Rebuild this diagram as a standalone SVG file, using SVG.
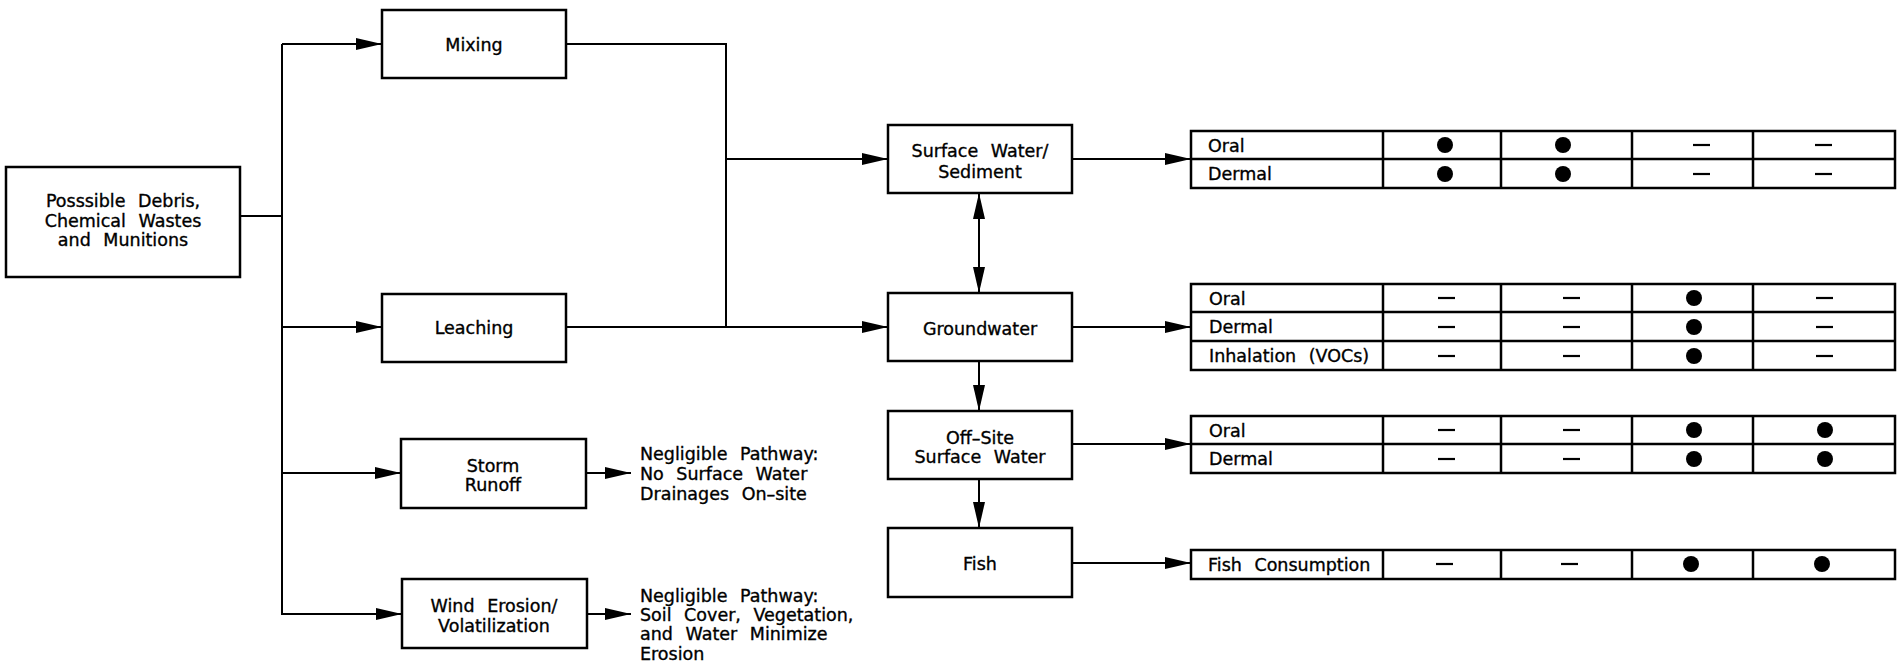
<svg xmlns="http://www.w3.org/2000/svg" width="1897" height="664" viewBox="0 0 1897 664">
<style>
.box{fill:#fff;stroke:#000;stroke-width:2.5}
.ln{fill:none;stroke:#000;stroke-width:2}
.arr{fill:none;stroke:#000;stroke-width:2;marker-end:url(#ah)}
.t{font-family:"DejaVu Sans",sans-serif;font-size:17.5px;fill:#000;stroke:#000;stroke-width:0.35;word-spacing:7px}
.c{text-anchor:middle}
.tb{fill:none;stroke:#000;stroke-width:2.5}
.dot{fill:#000}
.dash{stroke:#000;stroke-width:2.2}
</style>
<defs>
<marker id="ah" markerUnits="userSpaceOnUse" markerWidth="27" markerHeight="12" refX="26" refY="6" orient="auto-start-reverse" viewBox="0 0 27 12">
<path d="M0,0 L26,6 L0,12 z" fill="#000"/>
</marker>
</defs>
<rect width="1897" height="664" fill="#fff"/>

<g id="connectors">
<line class="ln" x1="240" y1="216" x2="282" y2="216"/>
<line class="ln" x1="282" y1="44" x2="282" y2="615"/>
<line class="arr" x1="282" y1="44" x2="382" y2="44"/>
<line class="arr" x1="282" y1="327" x2="382" y2="327"/>
<line class="arr" x1="282" y1="473" x2="401" y2="473"/>
<line class="arr" x1="282" y1="614" x2="402" y2="614"/>
<polyline class="ln" points="566,44 726,44 726,327"/>
<line class="arr" x1="726" y1="159" x2="888" y2="159"/>
<line class="arr" x1="566" y1="327" x2="888" y2="327"/>
<line class="arr" x1="979" y1="193" x2="979" y2="293" style="marker-start:url(#ah)"/>
<line class="arr" x1="979" y1="361" x2="979" y2="411"/>
<line class="arr" x1="979" y1="479" x2="979" y2="528"/>
<line class="arr" x1="1072" y1="159" x2="1191" y2="159"/>
<line class="arr" x1="1072" y1="327" x2="1191" y2="327"/>
<line class="arr" x1="1072" y1="444" x2="1191" y2="444"/>
<line class="arr" x1="1072" y1="563" x2="1191" y2="563"/>
<line class="arr" x1="586" y1="473" x2="631" y2="473"/>
<line class="arr" x1="587" y1="614" x2="631" y2="614"/>
</g>

<g id="source">
<rect class="box" x="6" y="167" width="234" height="110"/>
<text class="t c" x="123" y="206.5">Posssible Debris,</text>
<text class="t c" x="123" y="226.5">Chemical Wastes</text>
<text class="t c" x="123" y="245.5">and Munitions</text>
</g>
<g id="mixing">
<rect class="box" x="382" y="10" width="184" height="68"/>
<text class="t c" x="474" y="50.5">Mixing</text>
</g>
<g id="leaching">
<rect class="box" x="382" y="294" width="184" height="68"/>
<text class="t c" x="474" y="333.5">Leaching</text>
</g>
<g id="storm">
<rect class="box" x="401" y="439" width="185" height="69"/>
<text class="t c" x="493" y="471.5">Storm</text>
<text class="t c" x="493" y="490.5">Runoff</text>
</g>
<g id="wind">
<rect class="box" x="402" y="579" width="185" height="69"/>
<text class="t c" x="494" y="611.5">Wind Erosion/</text>
<text class="t c" x="494" y="631.5">Volatilization</text>
</g>
<g id="storm-note">
<text class="t" x="640" y="459.5">Negligible Pathway:</text>
<text class="t" x="640" y="479.5">No Surface Water</text>
<text class="t" x="640" y="499.5">Drainages On–site</text>
</g>
<g id="wind-note">
<text class="t" x="640" y="601.5">Negligible Pathway:</text>
<text class="t" x="640" y="620.5">Soil Cover, Vegetation,</text>
<text class="t" x="640" y="639.5">and Water Minimize</text>
<text class="t" x="640" y="659.5">Erosion</text>
</g>
<g id="surface-water">
<rect class="box" x="888" y="125" width="184" height="68"/>
<text class="t c" x="980" y="156.5">Surface Water/</text>
<text class="t c" x="980" y="177.5">Sediment</text>
</g>
<g id="groundwater">
<rect class="box" x="888" y="293" width="184" height="68"/>
<text class="t c" x="980" y="334.5">Groundwater</text>
</g>
<g id="offsite">
<rect class="box" x="888" y="411" width="184" height="68"/>
<text class="t c" x="980" y="443.5">Off–Site</text>
<text class="t c" x="980" y="462.5">Surface Water</text>
</g>
<g id="fish">
<rect class="box" x="888" y="528" width="184" height="69"/>
<text class="t c" x="980" y="569.5">Fish</text>
</g>

<g id="table-surface">
<rect class="tb" x="1191" y="131" width="704" height="57"/>
<path class="tb" d="M1191,159 H1895 M1383,131 V188 M1501,131 V188 M1632,131 V188 M1753,131 V188"/>
<text class="t" x="1208" y="151.5">Oral</text>
<text class="t" x="1208" y="179.5">Dermal</text>
<circle class="dot" cx="1445" cy="145" r="8"/><circle class="dot" cx="1563" cy="145" r="8"/>
<line class="dash" x1="1693" y1="145" x2="1710" y2="145"/><line class="dash" x1="1815" y1="145" x2="1832" y2="145"/>
<circle class="dot" cx="1445" cy="174" r="8"/><circle class="dot" cx="1563" cy="174" r="8"/>
<line class="dash" x1="1693" y1="174" x2="1710" y2="174"/><line class="dash" x1="1815" y1="174" x2="1832" y2="174"/>
</g>
<g id="table-groundwater">
<rect class="tb" x="1191" y="284" width="704" height="86"/>
<path class="tb" d="M1191,312 H1895 M1191,341 H1895 M1383,284 V370 M1501,284 V370 M1632,284 V370 M1753,284 V370"/>
<text class="t" x="1209" y="304.5">Oral</text>
<text class="t" x="1209" y="332.5">Dermal</text>
<text class="t" x="1209" y="362">Inhalation (VOCs)</text>
<line class="dash" x1="1438" y1="298" x2="1455" y2="298"/><line class="dash" x1="1563" y1="298" x2="1580" y2="298"/>
<circle class="dot" cx="1694" cy="298" r="8"/><line class="dash" x1="1816" y1="298" x2="1833" y2="298"/>
<line class="dash" x1="1438" y1="327" x2="1455" y2="327"/><line class="dash" x1="1563" y1="327" x2="1580" y2="327"/>
<circle class="dot" cx="1694" cy="327" r="8"/><line class="dash" x1="1816" y1="327" x2="1833" y2="327"/>
<line class="dash" x1="1438" y1="356" x2="1455" y2="356"/><line class="dash" x1="1563" y1="356" x2="1580" y2="356"/>
<circle class="dot" cx="1694" cy="356" r="8"/><line class="dash" x1="1816" y1="356" x2="1833" y2="356"/>
</g>
<g id="table-offsite">
<rect class="tb" x="1191" y="416" width="704" height="57"/>
<path class="tb" d="M1191,444 H1895 M1383,416 V473 M1501,416 V473 M1632,416 V473 M1753,416 V473"/>
<text class="t" x="1209" y="436.5">Oral</text>
<text class="t" x="1209" y="464.5">Dermal</text>
<line class="dash" x1="1438" y1="430" x2="1455" y2="430"/><line class="dash" x1="1563" y1="430" x2="1580" y2="430"/>
<circle class="dot" cx="1694" cy="430" r="8"/><circle class="dot" cx="1825" cy="430" r="8"/>
<line class="dash" x1="1438" y1="459" x2="1455" y2="459"/><line class="dash" x1="1563" y1="459" x2="1580" y2="459"/>
<circle class="dot" cx="1694" cy="459" r="8"/><circle class="dot" cx="1825" cy="459" r="8"/>
</g>
<g id="table-fish">
<rect class="tb" x="1191" y="550" width="704" height="29"/>
<path class="tb" d="M1383,550 V579 M1501,550 V579 M1632,550 V579 M1753,550 V579"/>
<text class="t" x="1208" y="570.5">Fish Consumption</text>
<line class="dash" x1="1436" y1="564" x2="1453" y2="564"/><line class="dash" x1="1561" y1="564" x2="1578" y2="564"/>
<circle class="dot" cx="1691" cy="564" r="8"/><circle class="dot" cx="1822" cy="564" r="8"/>
</g>
</svg>
